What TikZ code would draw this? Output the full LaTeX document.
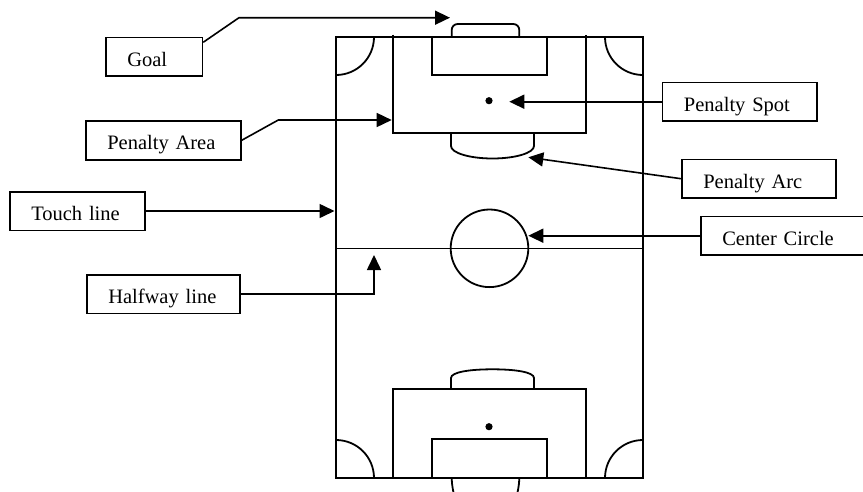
\documentclass[tikz,border=0pt]{standalone}
\usepackage{fontspec}
\setmainfont{Liberation Serif}
\usetikzlibrary{arrows.meta,calc}
\tikzset{
  field/.style={line width=1.8pt, line join=miter},
  thin field/.style={line width=1.1pt},
  labelbox/.style={draw, line width=1.5pt, anchor=north west, inner xsep=21.5pt, inner ysep=0pt,
    text height=18.9pt, text depth=0pt, minimum height=38.5pt, align=left,
    font=\fontsize{20.5}{24}\selectfont},
  pointer/.style={line width=1.6pt, -{Triangle[length=15pt,width=14pt]}},
  spot/.style={fill=black, draw=none}
}
\begin{document}
\begin{tikzpicture}[x=1pt,y=-1pt]
\useasboundingbox (0,0) rectangle (863,491);
% field outline
\draw[field] (336,37) rectangle (643,478);
% corner arcs
\begin{scope}
  \clip (336,37) rectangle (643,478);
  \draw[field] (336,37) circle[radius=38];
  \draw[field] (643,37) circle[radius=38];
  \draw[field] (336,478) circle[radius=38];
  \draw[field] (643,478) circle[radius=38];
\end{scope}
% halfway line and centre circle
\draw[thin field] (336,248.3) -- (643,248.3);
\draw[field] (489.5,248.3) circle[radius=38.8];
% top end
\draw[field] (393.3,34.5) -- (393.3,133.3) -- (585.7,133.3) -- (585.7,34.5);
\draw[field] (431.7,37) rectangle (547.3,75);
\draw[field, rounded corners=6pt] (451.7,37) -- (451.7,24) -- (519.3,24) -- (519.3,37);
\draw[field] (451,133.3) -- (451,146) .. controls (451,153) and (470,158.5) .. (492.5,158.5)
  .. controls (515,158.5) and (534,153) .. (534,146) -- (534,133.3);
\fill[spot] (489,100.7) circle[radius=3.6];
% bottom end
\draw[field] (393.3,478) -- (393.3,389.3) -- (585.7,389.3) -- (585.7,478);
\draw[field] (431.7,439.3) rectangle (547.3,478);
\draw[field] (451.7,479) .. controls (452,486) and (453,490) .. (455,500);
\draw[field] (519.3,479) .. controls (519,486) and (518,490) .. (516,500);
\draw[field] (451,389.3) -- (451,378) .. controls (451,372) and (470,369.3) .. (492.5,369.3)
  .. controls (515,369.3) and (534,372) .. (534,378) -- (534,389.3);
\fill[spot] (489,426.7) circle[radius=3.6];
% target points
\coordinate (goaltip) at (450,17.7);
\coordinate (pareatip) at (391.7,120);
\coordinate (touchtip) at (334.5,210);
\coordinate (halftip) at (374,255);
\coordinate (cctip) at (528.3,235);
\coordinate (pspottip) at (509.3,101);
\coordinate (parctip) at (528.3,157.3);
% label boxes
\node[labelbox, text width=53.7pt] (goal) at (105,36.7) {Goal};
\node[labelbox, text width=112pt, minimum height=39.3pt] (parea) at (85,120) {Penalty Area};
\node[labelbox, text width=92pt] (touch) at (9,191) {Touch line};
\node[labelbox, text width=110.3pt] (half) at (86,274) {Halfway line};
\node[labelbox, text width=157pt] (cc) at (700,215.7) {Center Circle};
\node[labelbox, text width=111.3pt] (pspot) at (661.7,81.7) {Penalty Spot};
\node[labelbox, text width=111pt] (parc) at (681,158.7) {Penalty Arc};
% connectors
\draw[pointer] ($(goal.north east)+(0,5.6)$) -- (239,17.7) -- (goaltip);
\draw[pointer] (parea.east) -- (278.3,120) -- (pareatip);
\draw[pointer] (touch.east) -- (touch.east -| touchtip);
\draw[pointer] (half.east) -- (half.east -| halftip) -- (halftip);
\draw[pointer] (cc.west) -- (cc.west -| cctip);
\draw[pointer] (pspot.west) -- (pspot.west -| pspottip);
\draw[pointer] (parc.west) -- (parctip);
\end{tikzpicture}
\end{document}
